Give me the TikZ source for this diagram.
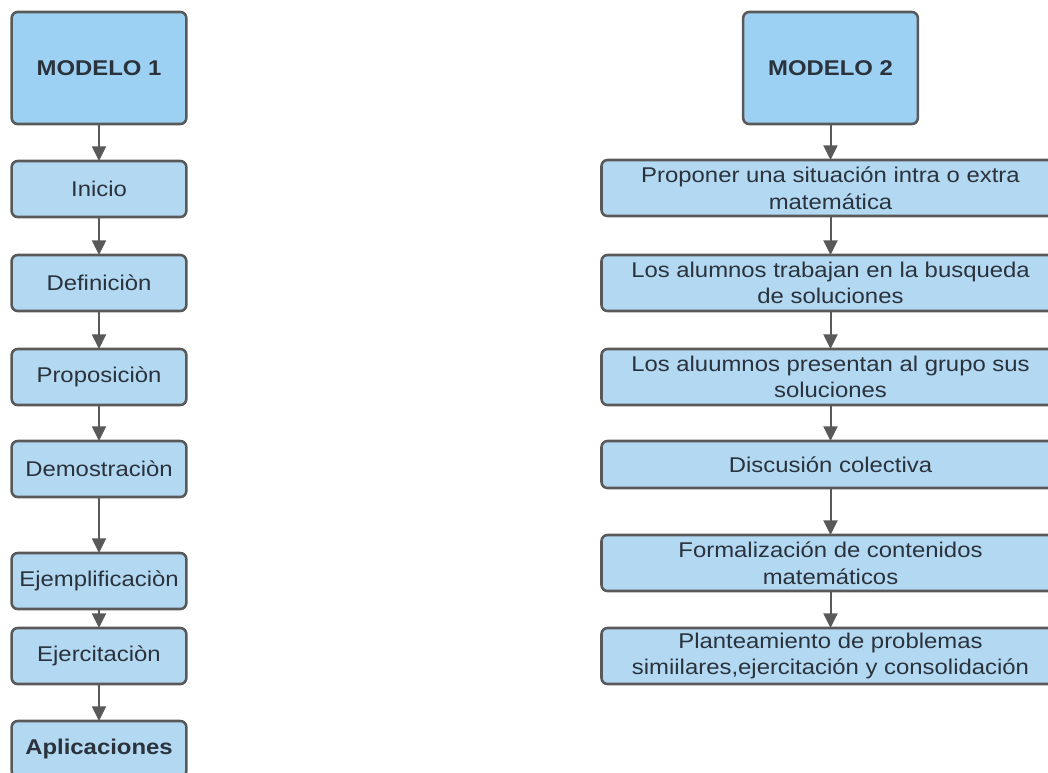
\documentclass[tikz,border=0pt]{standalone}
\usepackage{fontspec}
\setmainfont[FakeStretch=1.12]{Liberation Sans}
\usetikzlibrary{arrows.meta,positioning}
\definecolor{headblue}{HTML}{9DD1F3}
\definecolor{stepblue}{HTML}{B3D8F2}
\definecolor{edgegray}{HTML}{595959}
\definecolor{txtgray}{HTML}{2A323C}
\tikzset{
  box/.style={rectangle, draw=edgegray, line width=1.9pt, rounded corners=4.5pt, fill=stepblue, align=center, text=txtgray, font=\fontsize{16}{20}\selectfont, inner sep=0pt, outer sep=0pt},
  lbox/.style={box, minimum width=131pt, minimum height=42pt},
  rbox/.style={box, minimum width=343.5pt, minimum height=42pt},
  head/.style={lbox, fill=headblue, minimum height=84pt, font=\fontsize{16}{20}\selectfont\bfseries},
  arr/.style={-{Triangle[length=11pt,width=10.5pt]}, line width=1.5pt, draw=edgegray}
}

\begin{document}
\begin{tikzpicture}[x=0.75pt,y=-0.75pt]
\useasboundingbox (0,0) rectangle (1048,772);
\clip (0,0) rectangle (1048,772);
\fill[white] (0,0) rectangle (1048,772);
% modelo 1
\node[head] (m1) at (99,68) {MODELO 1};
\node[lbox, below=27.75pt of m1] (inicio) {Inicio};
\node[lbox, below=28.5pt of inicio] (defin) {Definiciòn};
\node[lbox, below=28.5pt of defin] (propo) {Proposiciòn};
\node[lbox, below=27pt of propo] (demo) {Demostraciòn};
\node[lbox, below=42pt of demo] (ejem) {Ejemplificaciòn};
\node[lbox, below=14.25pt of ejem] (ejer) {Ejercitaciòn};
\node[lbox, below=27.75pt of ejer, font=\fontsize{16}{20}\selectfont\bfseries] (aplic) {Aplicaciones};
% modelo 2
\node[head] (m2) at (830.5,68) {MODELO 2};
\node[rbox, below=27pt of m2] (prop2) {Proponer una situación intra o extra\\matemática};
\node[rbox, below=29.25pt of prop2] (busq) {Los alumnos trabajan en la busqueda\\de soluciones};
\node[rbox, below=28.5pt of busq] (pres) {Los aluumnos presentan al grupo sus\\soluciones};
\node[rbox, below=27pt of pres, minimum height=35.25pt] (disc) {Discusión colectiva};
\node[rbox, below=35.25pt of disc] (form) {Formalización de contenidos\\matemáticos};
\node[rbox, below=27.75pt of form] (plan) {Planteamiento de problemas\\simiilares,ejercitación y consolidación};

\draw[arr] (m1) -- (inicio); \draw[arr] (inicio) -- (defin); \draw[arr] (defin) -- (propo);
\draw[arr] (propo) -- (demo); \draw[arr] (demo) -- (ejem); \draw[arr] (ejem) -- (ejer); \draw[arr] (ejer) -- (aplic);
\draw[arr] (m2) -- (prop2); \draw[arr] (prop2) -- (busq); \draw[arr] (busq) -- (pres);
\draw[arr] (pres) -- (disc); \draw[arr] (disc) -- (form); \draw[arr] (form) -- (plan);
\end{tikzpicture}
\end{document}
